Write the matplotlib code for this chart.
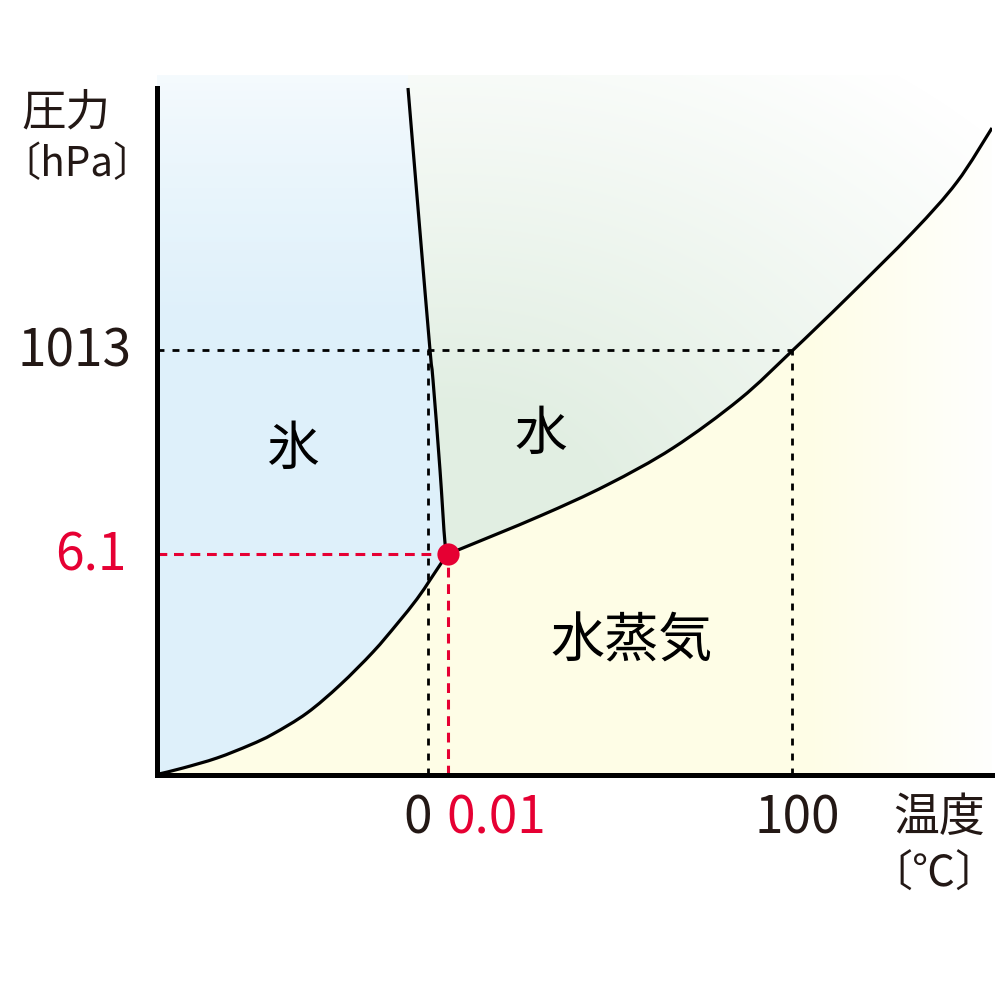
import numpy as np
import matplotlib
matplotlib.use("Agg")
import matplotlib.pyplot as plt
from matplotlib.path import Path
from matplotlib.patches import PathPatch

plt.rcParams['font.family'] = ['Noto Sans CJK JP', 'DejaVu Sans']

# Schematic phase diagram of water (positions are schematic, not to scale)
# curve points as (x, y) in schematic units
subl_x = [2, 26, 60, 93, 116, 150, 183, 216, 240, 260, 273, 285, 291]
subl_y = [1, 7, 17, 30, 41, 62, 90, 123, 151, 176, 195, 213, 221]

melt_x = [291, 288, 283, 276, 273, 262, 251]
melt_y = [221, 232, 305, 395, 425, 555, 687]

vap_x = [291, 301, 383, 450, 516, 583, 635, 690, 756, 800, 835]
vap_y = [221, 225, 259, 290, 327, 376, 424, 477, 543, 593, 647]

# reference temperatures / pressures and where they sit on the schematic axes
temp_labels = ['0', '0.01', '100']
temp_pos = [271, 291, 635]
pres_labels = ['1013', '6.1']
pres_pos = [425, 221]

triple_x, triple_y = 291, 221

region_labels = ['氷', '水', '水蒸気']
region_x = [135, 384, 475]
region_y = [326, 341, 133]

RED = '#e60033'
INK = '#231815'

XMAX, YMAX, YTOP = 835, 700, 687


def smooth_verts(xs, ys):
    # cubic bezier pieces through the given points (Catmull-Rom style handles)
    p = np.column_stack([xs, ys]).astype(float)
    n = len(p)
    verts = [p[0]]
    for i in range(n - 1):
        a = p[i - 1] if i > 0 else p[i]
        d = p[i + 2] if i + 2 < n else p[i + 1]
        verts += [p[i] + (p[i + 1] - a) / 6, p[i + 1] - (d - p[i]) / 6, p[i + 1]]
    return verts


def curve_path(xs, ys):
    v = smooth_verts(xs, ys)
    return Path(v, [Path.MOVETO] + [Path.CURVE4] * (len(v) - 1))


def region_path(pieces):
    verts, codes = [], []
    for kind, data in pieces:
        if kind == 'c':
            v = smooth_verts(*data)
            verts.append(v[0])
            codes.append(Path.MOVETO if not codes else Path.LINETO)
            verts += v[1:]
            codes += [Path.CURVE4] * (len(v) - 1)
        else:
            for pt in data:
                verts.append(pt)
                codes.append(Path.MOVETO if not codes else Path.LINETO)
    verts.append(verts[0])
    codes.append(Path.CLOSEPOLY)
    return Path(verts, codes)


fig = plt.figure(figsize=(10, 10), dpi=100)
ax = fig.add_axes([0.157, 0.225, 0.835, 0.70])
ax.set_xlim(0, XMAX)
ax.set_ylim(0, YMAX)

# ---- gradient fills, clipped to each phase region ----
X, Y = np.meshgrid(np.arange(XMAX) + 0.5, np.arange(YMAX) + 0.5)


def tint(rgb, f):
    f = np.clip(f, 0, 1)[..., None]
    c = np.array(rgb) / 255.0
    return 1.0 - f * (1.0 - c)


ice_img = tint((222, 240, 250), np.clip((740 - Y) / 300, 0, 1) ** 0.6)
dist = np.sqrt(((X - 290) / 600) ** 2 + ((Y - 250) / 450) ** 2)
water_img = tint((225, 238, 226), 1.25 - dist)
vap_img = tint((254, 253, 230), (850 - X) / 200)

subl = ('c', (subl_x, subl_y))
melt = ('c', (melt_x, melt_y))
vap = ('c', (vap_x, vap_y))
vap_rev = ('c', (vap_x[::-1], vap_y[::-1]))

ice_region = region_path([('l', [(0, 0)]), subl, melt,
                          ('l', [(melt_x[-1], YMAX), (0, YMAX)])])
water_region = region_path([melt, ('l', [(melt_x[-1], YMAX), (XMAX, YMAX)]), vap_rev])
vap_region = region_path([('l', [(0, 0)]), subl, vap, ('l', [(XMAX, 0)])])

for img, reg in [(ice_img, ice_region), (water_img, water_region), (vap_img, vap_region)]:
    im = ax.imshow(img, extent=(0, XMAX, 0, YMAX), origin='lower',
                   aspect='auto', interpolation='bilinear', zorder=0)
    im.set_clip_path(PathPatch(reg, transform=ax.transData))

# ---- guide lines ----
kw_black = dict(color='black', lw=2.0, dashes=(2.5, 2.9), zorder=2)
kw_red = dict(color=RED, lw=2.2, dashes=(3.2, 2.2), zorder=2)
ax.plot([0, temp_pos[2]], [pres_pos[0], pres_pos[0]], **kw_black)
ax.plot([temp_pos[0], temp_pos[0]], [0, pres_pos[0]], **kw_black)
ax.plot([temp_pos[2], temp_pos[2]], [0, pres_pos[0]], **kw_black)
ax.plot([0, temp_pos[1]], [pres_pos[1], pres_pos[1]], **kw_red)
ax.plot([temp_pos[1], temp_pos[1]], [0, pres_pos[1]], **kw_red)

# ---- phase boundaries ----
for cx, cy in [(subl_x, subl_y), (melt_x, melt_y), (vap_x, vap_y)]:
    ax.add_patch(PathPatch(curve_path(cx, cy), fill=False, edgecolor='black',
                           lw=2.3, capstyle='butt', zorder=3))
ax.plot([triple_x], [triple_y], 'o', color=RED, ms=16, mec='none', zorder=5)

# ---- axes frame ----
for s in ['top', 'right']:
    ax.spines[s].set_visible(False)
for s in ['left', 'bottom']:
    ax.spines[s].set_linewidth(3.6)
    ax.spines[s].set_capstyle('projecting')
    ax.spines[s].set_zorder(6)
ax.spines['left'].set_bounds(0, YTOP)
ax.spines['bottom'].set_bounds(0, XMAX)
ax.set_xticks([])
ax.set_yticks([])
ax.patch.set_alpha(0)

# ---- labels ----
tx = [261, 289, 640]
tha = ['center', 'left', 'center']
tcol = [INK, RED, INK]
for lab, x, ha, c in zip(temp_labels, tx, tha, tcol):
    ax.text(x, -44, lab, ha=ha, va='center', fontsize=37, color=c, clip_on=False)

px = [-25, -30]
pcol = [INK, RED]
for lab, x, y, c in zip(pres_labels, px, pres_pos, pcol):
    ax.text(x, y - 2, lab, ha='right', va='center', fontsize=37, color=c, clip_on=False)

fsz = [38, 38, 39]
for lab, x, y, s in zip(region_labels, region_x, region_y, fsz):
    ax.text(x, y, lab, ha='center', va='center', fontsize=s, color='black')

fig.text(0.066, 1 - 0.113, '圧力', ha='center', va='center', fontsize=32, color=INK)
fig.text(0.0, 1 - 0.165, '〔hPa〕', ha='left', va='center', fontsize=29, color=INK)
fig.text(0.939, 1 - 0.818, '温度', ha='center', va='center', fontsize=33, color=INK)
fig.text(0.934, 1 - 0.875, '〔℃〕', ha='center', va='center', fontsize=31, color=INK)

fig.savefig('out.png', dpi=100, facecolor='white')
